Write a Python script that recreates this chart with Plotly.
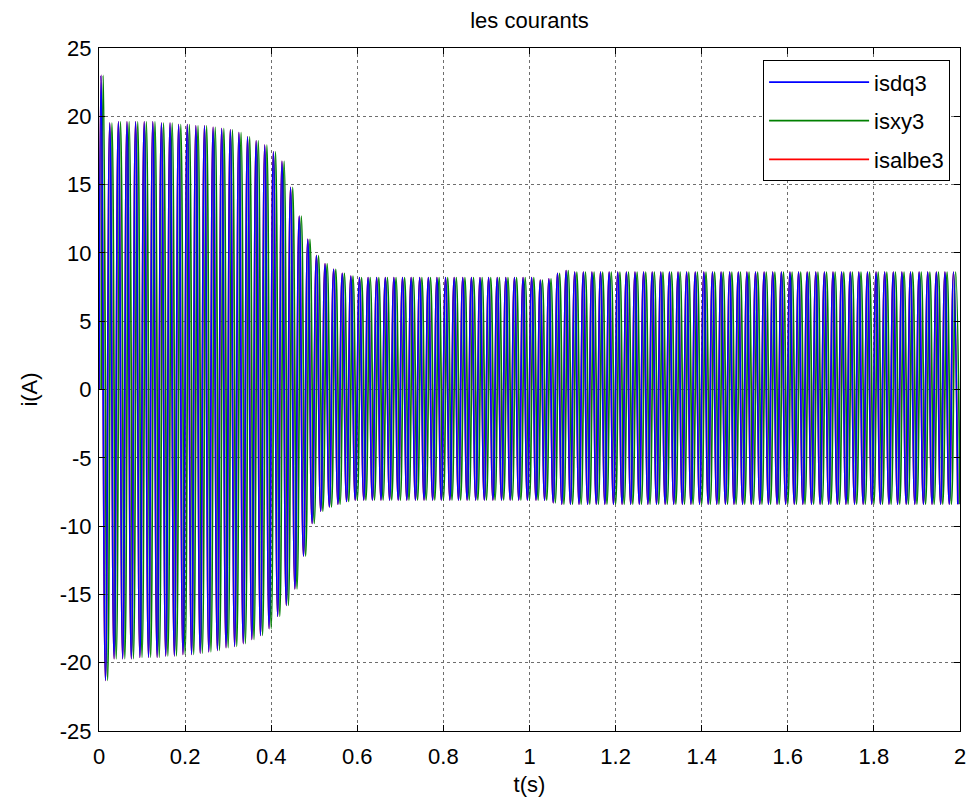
import plotly.graph_objects as go

# Stator current phase 3 computed in three reference frames (dq, xy, alpha-beta)
SUPPLY_HZ = 50.0
PERIOD = 1.0 / SUPPLY_HZ

# Positive peak of every cycle (cycle k peaks at 0.005 + 0.02*k s)
UPPER_PEAKS = (
    [23.0, 19.5, 19.6, 19.6, 19.6, 19.6, 19.6, 19.5, 19.5, 19.4,
     19.4, 19.3, 19.3, 19.2, 19.1, 19.0, 18.8, 18.5, 18.2, 17.9,
     17.4, 16.7, 14.8, 12.7, 11.0, 9.8, 9.2, 8.8, 8.5, 8.3]
    + [8.2] * 21
    + [8.0, 8.1, 8.5, 8.7]
    + [8.6] * 45
)

# Negative peak of every cycle (cycle k trough at 0.015 + 0.02*k s)
LOWER_PEAKS = (
    [-21.3, -19.7, -19.7, -19.7, -19.6, -19.6, -19.6, -19.5, -19.5, -19.4,
     -19.4, -19.3, -19.2, -19.1, -18.9, -18.8, -18.6, -18.3, -18.0, -17.5,
     -16.6, -15.8, -14.6, -12.2, -9.8, -8.9, -8.6, -8.4, -8.2]
    + [-8.1] * 22
    + [-8.1, -8.3]
    + [-8.4] * 47
)

SERIES = [
    # name, colour, time shift (s), legend position
    ("isalbe3", "#ff0000", 0.000, 3),
    ("isxy3", "#008000", 0.005, 2),
    ("isdq3", "#0000ff", 0.000, 1),
]

X_TICKS = [0, 0.2, 0.4, 0.6, 0.8, 1.0, 1.2, 1.4, 1.6, 1.8, 2.0]
X_TICK_TEXT = ["0", "0.2", "0.4", "0.6", "0.8", "1", "1.2", "1.4", "1.6", "1.8", "2"]
Y_TICKS = [-25, -20, -15, -10, -5, 0, 5, 10, 15, 20, 25]
Y_TICK_TEXT = [str(v) for v in Y_TICKS]

FONT = "Liberation Sans"
FSIZE = 22


def peak_series(shift):
    """Alternate positive and negative peaks in time order."""
    t, y = [0.0 + shift], [0.0]
    for k, (hi, lo) in enumerate(zip(UPPER_PEAKS, LOWER_PEAKS)):
        t.append(shift + PERIOD * (k + 0.25))
        y.append(hi)
        t.append(shift + PERIOD * (k + 0.75))
        y.append(lo)
    return t, y


fig = go.Figure()
for name, colour, shift, rank in SERIES:
    t, y = peak_series(shift)
    fig.add_trace(go.Scatter(
        x=t, y=y, mode="lines", name=name,
        line=dict(color=colour, width=1.7, shape="spline", smoothing=1.3),
        legendrank=rank, legendgroup=name,
    ))

axis_common = dict(
    showline=True, linecolor="black", linewidth=1, mirror="ticks",
    ticks="inside", ticklen=6, tickcolor="black",
    showgrid=True, gridcolor="#6e6e6e", griddash="dot", gridwidth=1,
    zeroline=False,
    tickfont=dict(family=FONT, size=FSIZE, color="black"),
)

fig.update_layout(
    width=978, height=805,
    margin=dict(l=99, r=12, t=48, b=74),
    paper_bgcolor="white", plot_bgcolor="white",
    title=dict(text="les courants", x=0.5, xref="paper", y=1 - 20 / 805,
               yref="container", yanchor="middle",
               font=dict(family=FONT, size=FSIZE, color="black")),
    xaxis=dict(range=[0, 2], tickvals=X_TICKS, ticktext=X_TICK_TEXT,
               ticklabelstandoff=6,
               title=dict(text="t(s)", font=dict(family=FONT, size=FSIZE, color="black"),
                          standoff=8),
               **axis_common),
    yaxis=dict(range=[-25, 25], tickvals=Y_TICKS, ticktext=Y_TICK_TEXT,
               ticklabelstandoff=2,
               title=dict(text="i(A)", font=dict(family=FONT, size=FSIZE, color="black"),
                          standoff=16),
               **axis_common),
    legend=dict(x=0.9885, y=0.982, xanchor="right", yanchor="top",
                bgcolor="white", bordercolor="black", borderwidth=1,
                font=dict(family=FONT, size=FSIZE, color="black"),
                tracegroupgap=7, itemwidth=100),
    showlegend=True,
)

fig.write_html("out.html")
